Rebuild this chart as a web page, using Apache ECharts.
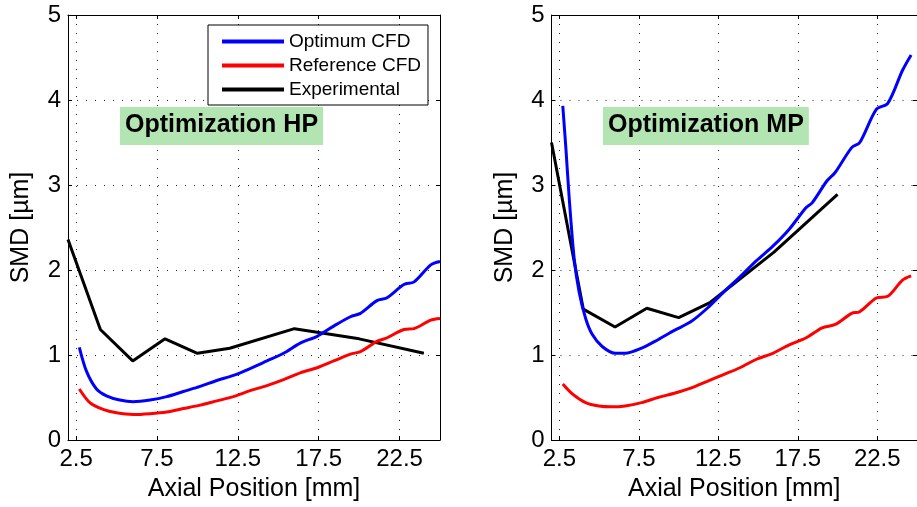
<!DOCTYPE html>
<html>
<head>
<meta charset="utf-8">
<script src="https://cdn.jsdelivr.net/npm/echarts@6/dist/echarts.min.js"></script>
<style>html,body{margin:0;padding:0;background:#fff}#c{width:917px;height:507px}</style>
</head>
<body>
<div id="c"></div>
<script>
const xTicks = [2.5, 7.5, 12.5, 17.5, 22.5];
const seriesNames = ['Optimum CFD', 'Reference CFD', 'Experimental'];
const panelTitles = ['Optimization HP', 'Optimization MP'];

// HP panel
const hpOptX = [2.7, 3.14, 3.76, 4.38, 5.2, 6.03, 7.07, 8.1, 9.13, 10.17, 11.2, 12.23, 13.26, 14.3, 15.33, 16.36, 17.4, 18.43, 19.46, 20.08, 21.1, 21.7, 22.77, 23.4, 24.43, 25.0];
const hpOptY = [1.09, 0.81, 0.60, 0.52, 0.47, 0.45, 0.47, 0.51, 0.57, 0.63, 0.70, 0.76, 0.84, 0.93, 1.02, 1.14, 1.22, 1.34, 1.45, 1.49, 1.64, 1.67, 1.83, 1.86, 2.06, 2.10];
const hpRefX = [2.7, 3.35, 4.17, 5.0, 6.03, 7.07, 8.1, 9.13, 10.17, 11.2, 12.23, 13.26, 14.3, 15.33, 16.36, 17.4, 18.43, 19.46, 20.08, 21.1, 21.7, 22.77, 23.4, 24.43, 25.0];
const hpRefY = [0.60, 0.44, 0.36, 0.32, 0.30, 0.31, 0.33, 0.37, 0.41, 0.46, 0.51, 0.58, 0.64, 0.71, 0.79, 0.85, 0.93, 1.01, 1.04, 1.16, 1.20, 1.30, 1.31, 1.41, 1.43];
const hpExpX = [2, 4, 6, 8, 10, 12, 16, 20, 24];
const hpExpY = [2.36, 1.30, 0.93, 1.19, 1.02, 1.08, 1.31, 1.19, 1.02];

// MP panel
const mpOptX = [2.71, 2.91, 3.12, 3.43, 3.74, 4.15, 4.57, 5.19, 6.01, 6.63, 7.67, 8.70, 9.73, 10.76, 11.8, 12.83, 13.86, 14.9, 15.93, 16.96, 18.0, 18.4, 19.34, 19.86, 20.89, 21.4, 22.44, 23.16, 24.09, 24.63];
const mpOptY = [3.93, 3.42, 2.83, 2.13, 1.74, 1.43, 1.24, 1.10, 1.02, 1.02, 1.08, 1.18, 1.29, 1.39, 1.55, 1.74, 1.92, 2.11, 2.28, 2.48, 2.73, 2.79, 3.05, 3.15, 3.44, 3.50, 3.89, 3.96, 4.35, 4.53];
const mpRefX = [2.71, 3.33, 4.15, 4.98, 5.8, 6.63, 7.67, 8.7, 9.73, 10.76, 11.8, 12.83, 13.86, 14.9, 15.93, 16.96, 18.0, 19.03, 19.86, 20.89, 21.4, 22.44, 23.16, 24.09, 24.63];
const mpRefY = [0.66, 0.54, 0.44, 0.40, 0.39, 0.40, 0.44, 0.50, 0.55, 0.61, 0.69, 0.77, 0.85, 0.95, 1.02, 1.12, 1.20, 1.32, 1.36, 1.49, 1.51, 1.67, 1.69, 1.88, 1.93];
const mpExpX = [2, 4, 6, 8, 10, 12, 16, 20];
const mpExpY = [3.50, 1.54, 1.33, 1.55, 1.44, 1.62, 2.21, 2.89];

const zip = (xs, ys) => xs.map((x, i) => [x, ys[i]]);
const FONT = 'Liberation Sans, Arial, Helvetica, sans-serif';
const colors = ['#0000ff', '#ff0000', '#000000'];

const grids = [
  {left: 68, top: 15, width: 372, height: 428},
  {left: 551.5, top: 15, width: 372, height: 428}
];

function bottomX(g) {
  return {
    type: 'value', gridIndex: g, min: 2, max: 25, position: 'bottom',
    name: 'Axial Position [mm]', nameLocation: 'middle', nameGap: 37,
    nameTextStyle: {fontFamily: FONT, fontSize: 25, color: '#000'},
    axisLine: {show: true, onZero: false, lineStyle: {color: '#000', width: 1}},
    axisTick: {show: true, inside: true, length: 4, customValues: xTicks, lineStyle: {color: '#000'}},
    axisLabel: {show: true, customValues: xTicks, margin: 7, fontFamily: FONT, fontSize: 24, color: '#000', formatter: v => v.toFixed(1)},
    splitLine: {show: true, lineStyle: {color: '#222', type: [1, 8], width: 1}}
  };
}
function topX(g) {
  return {
    type: 'value', gridIndex: g, min: 2, max: 25, position: 'top',
    axisLine: {show: true, onZero: false, lineStyle: {color: '#000', width: 1}},
    axisTick: {show: true, inside: true, length: 4, customValues: xTicks, lineStyle: {color: '#000'}},
    axisLabel: {show: false}, splitLine: {show: false}
  };
}
function leftY(g) {
  return {
    type: 'value', gridIndex: g, min: 0, max: 5, interval: 1, position: 'left',
    name: 'SMD [µm]', nameLocation: 'middle', nameGap: 34,
    nameTextStyle: {fontFamily: FONT, fontSize: 25, color: '#000'},
    axisLine: {show: true, onZero: false, lineStyle: {color: '#000', width: 1}},
    axisTick: {show: true, inside: true, length: 4, lineStyle: {color: '#000'}},
    axisLabel: {show: true, margin: 7, fontFamily: FONT, fontSize: 24, color: '#000'},
    splitLine: {show: true, lineStyle: {color: '#222', type: [1, 8], width: 1}}
  };
}
function rightY(g) {
  return {
    type: 'value', gridIndex: g, min: 0, max: 5, interval: 1, position: 'right',
    axisLine: {show: true, onZero: false, lineStyle: {color: '#000', width: 1}},
    axisTick: {show: true, inside: true, length: 4, lineStyle: {color: '#000'}},
    axisLabel: {show: false}, splitLine: {show: false}
  };
}

function line(name, data, g, idx, smooth) {
  return {
    type: 'line', name: name, xAxisIndex: g, yAxisIndex: g, data: data,
    showSymbol: false, symbol: 'none', smooth: smooth, clip: true,
    lineStyle: {color: colors[idx], width: 3}, itemStyle: {color: colors[idx]},
    emphasis: {disabled: true}, animation: false, z: 3 - idx + 2
  };
}

const option = {
  animation: false,
  grid: grids,
  xAxis: [bottomX(0), bottomX(1), topX(0), topX(1)],
  yAxis: [leftY(0), leftY(1), rightY(0), rightY(1)],
  title: [
    {text: panelTitles[0], left: 120, top: 107, backgroundColor: '#b3e5b3', padding: [6, 5, 7, 5],
     textStyle: {fontFamily: FONT, fontSize: 25, fontWeight: 'bold', color: '#000'}},
    {text: panelTitles[1], left: 603, top: 107, backgroundColor: '#b3e5b3', padding: [6, 5, 7, 5],
     textStyle: {fontFamily: FONT, fontSize: 25, fontWeight: 'bold', color: '#000'}}
  ],
  legend: {
    data: seriesNames, orient: 'vertical', left: 208, top: 25,
    backgroundColor: '#fff', borderColor: '#000', borderWidth: 1,
    padding: [6, 7, 5, 14], itemGap: 3, itemWidth: 62, itemHeight: 4, icon: 'rect',
    textStyle: {fontFamily: FONT, fontSize: 19, color: '#000', lineHeight: 21},
    selectedMode: false
  },
  series: [
    line(seriesNames[0], zip(hpOptX, hpOptY), 0, 0, 0.3),
    line(seriesNames[1], zip(hpRefX, hpRefY), 0, 1, 0.3),
    line(seriesNames[2], zip(hpExpX, hpExpY), 0, 2, false),
    line(seriesNames[0], zip(mpOptX, mpOptY), 1, 0, 0.3),
    line(seriesNames[1], zip(mpRefX, mpRefY), 1, 1, 0.3),
    line(seriesNames[2], zip(mpExpX, mpExpY), 1, 2, false)
  ]
};
const chart = echarts.init(document.getElementById('c'), null, {renderer: 'canvas'});
chart.setOption(option);
</script>
</body>
</html>
